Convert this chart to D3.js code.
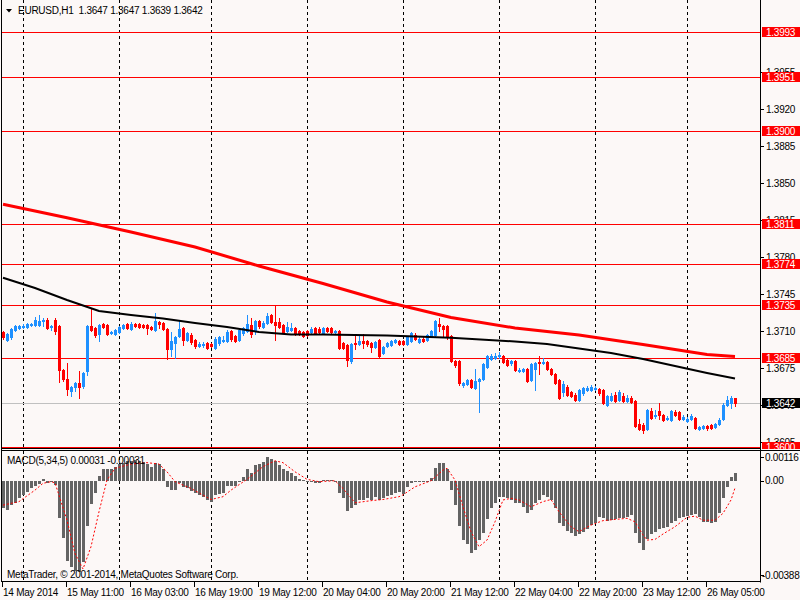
<!DOCTYPE html>
<html>
<head>
<meta charset="utf-8">
<script src="https://cdn.jsdelivr.net/npm/d3@7"></script>
<style>
  body { margin: 0; background: #fcf8f7; }
  svg { display: block; }
  text { font-family: "Liberation Sans", Arial, sans-serif; font-size: 10px; letter-spacing: -0.25px; }
</style>
</head>
<body>
<svg id="chart"></svg>
<script>
// EURUSD H1 bars, [open, high, low, close], one per hour, oldest first
const bars = [
  [1.3709,1.3710,1.3703,1.3704],[1.3702,1.3708,1.3701,1.3707],[1.3704,1.3713,1.3703,1.3712],[1.3711,1.3716,1.3710,1.3715],
  [1.3713,1.3716,1.3712,1.3715],[1.3714,1.3717,1.3713,1.3715],[1.3714,1.3718,1.3713,1.3717],[1.3716,1.3718,1.3715,1.3717],
  [1.3716,1.3723,1.3715,1.3721],[1.3716,1.3725,1.3715,1.3720],[1.3720,1.3722,1.3715,1.3721],[1.3721,1.3722,1.3712,1.3713],
  [1.3714,1.3716,1.3711,1.3715],[1.3721,1.3722,1.3707,1.3710],[1.3715,1.3716,1.3662,1.3673],[1.3673,1.3674,1.3663,1.3665],
  [1.3665,1.3680,1.3650,1.3655],[1.3653,1.3658,1.3649,1.3657],[1.3657,1.3662,1.3653,1.3661],[1.3661,1.3672,1.3647,1.3657],
  [1.3658,1.3671,1.3656,1.3670],[1.3672,1.3716,1.3668,1.3715],[1.3715,1.3732,1.3710,1.3711],[1.3713,1.3714,1.3704,1.3706],
  [1.3707,1.3717,1.3701,1.3716],[1.3717,1.3718,1.3713,1.3714],[1.3716,1.3717,1.3706,1.3707],[1.3708,1.3710,1.3707,1.3709],
  [1.3707,1.3712,1.3706,1.3711],[1.3709,1.3715,1.3708,1.3714],[1.3713,1.3717,1.3712,1.3716],[1.3717,1.3718,1.3712,1.3713],
  [1.3712,1.3719,1.3711,1.3717],[1.3717,1.3718,1.3714,1.3715],[1.3717,1.3718,1.3713,1.3714],[1.3716,1.3717,1.3713,1.3714],
  [1.3716,1.3717,1.3707,1.3713],[1.3714,1.3715,1.3711,1.3712],[1.3711,1.3727,1.3710,1.3720],[1.3719,1.3720,1.3713,1.3717],
  [1.3718,1.3719,1.3711,1.3712],[1.3712,1.3713,1.3684,1.3693],[1.3693,1.3709,1.3686,1.3701],[1.3699,1.3705,1.3685,1.3704],
  [1.3705,1.3720,1.3704,1.3712],[1.3713,1.3714,1.3697,1.3702],[1.3702,1.3709,1.3701,1.3708],[1.3706,1.3708,1.3698,1.3700],
  [1.3702,1.3703,1.3694,1.3696],[1.3696,1.3700,1.3695,1.3698],[1.3697,1.3700,1.3695,1.3698],[1.3699,1.3700,1.3693,1.3694],
  [1.3698,1.3699,1.3695,1.3696],[1.3694,1.3704,1.3693,1.3703],[1.3699,1.3705,1.3697,1.3704],[1.3701,1.3705,1.3700,1.3702],
  [1.3701,1.3711,1.3700,1.3709],[1.3710,1.3711,1.3701,1.3703],[1.3705,1.3706,1.3700,1.3701],[1.3702,1.3712,1.3701,1.3711],
  [1.3708,1.3714,1.3706,1.3713],[1.3710,1.3725,1.3709,1.3717],[1.3716,1.3722,1.3704,1.3707],[1.3710,1.3721,1.3707,1.3720],
  [1.3720,1.3721,1.3713,1.3715],[1.3714,1.3720,1.3713,1.3718],[1.3718,1.3727,1.3717,1.3724],[1.3725,1.3726,1.3718,1.3719],
  [1.3719,1.3735,1.3702,1.3716],[1.3719,1.3722,1.3713,1.3714],[1.3716,1.3717,1.3708,1.3709],[1.3710,1.3719,1.3709,1.3714],
  [1.3711,1.3718,1.3710,1.3713],[1.3713,1.3714,1.3706,1.3707],[1.3710,1.3711,1.3706,1.3707],[1.3709,1.3710,1.3704,1.3705],
  [1.3710,1.3711,1.3705,1.3706],[1.3709,1.3714,1.3708,1.3712],[1.3713,1.3714,1.3707,1.3708],[1.3712,1.3714,1.3708,1.3709],
  [1.3708,1.3714,1.3707,1.3713],[1.3713,1.3714,1.3709,1.3710],[1.3713,1.3714,1.3708,1.3709],[1.3709,1.3711,1.3708,1.3710],
  [1.3710,1.3711,1.3693,1.3694],[1.3699,1.3700,1.3693,1.3694],[1.3697,1.3698,1.3677,1.3683],[1.3682,1.3699,1.3680,1.3698],
  [1.3699,1.3707,1.3693,1.3698],[1.3698,1.3706,1.3697,1.3701],[1.3701,1.3707,1.3694,1.3699],[1.3701,1.3702,1.3696,1.3698],
  [1.3699,1.3700,1.3690,1.3695],[1.3695,1.3701,1.3694,1.3700],[1.3702,1.3703,1.3685,1.3686],[1.3689,1.3696,1.3688,1.3695],
  [1.3696,1.3700,1.3695,1.3699],[1.3697,1.3702,1.3696,1.3701],[1.3700,1.3703,1.3699,1.3702],[1.3701,1.3702,1.3697,1.3698],
  [1.3701,1.3702,1.3697,1.3698],[1.3698,1.3705,1.3697,1.3704],[1.3701,1.3709,1.3700,1.3708],[1.3706,1.3708,1.3702,1.3703],
  [1.3700,1.3704,1.3699,1.3703],[1.3703,1.3704,1.3700,1.3701],[1.3702,1.3707,1.3701,1.3706],[1.3705,1.3711,1.3704,1.3710],
  [1.3706,1.3721,1.3705,1.3720],[1.3717,1.3722,1.3710,1.3715],[1.3715,1.3716,1.3705,1.3712],[1.3715,1.3716,1.3703,1.3704],
  [1.3705,1.3706,1.3681,1.3682],[1.3682,1.3683,1.3676,1.3678],[1.3682,1.3683,1.3659,1.3661],[1.3659,1.3662,1.3657,1.3661],
  [1.3660,1.3665,1.3659,1.3664],[1.3664,1.3665,1.3656,1.3657],[1.3656,1.3674,1.3655,1.3663],[1.3663,1.3666,1.3633,1.3665],
  [1.3665,1.3680,1.3664,1.3679],[1.3676,1.3687,1.3675,1.3686],[1.3684,1.3688,1.3683,1.3686],[1.3685,1.3689,1.3684,1.3686],
  [1.3686,1.3690,1.3685,1.3687],[1.3686,1.3687,1.3680,1.3681],[1.3683,1.3684,1.3677,1.3678],[1.3680,1.3683,1.3678,1.3682],
  [1.3682,1.3683,1.3672,1.3673],[1.3672,1.3675,1.3671,1.3673],[1.3672,1.3675,1.3671,1.3674],[1.3674,1.3675,1.3662,1.3663],
  [1.3664,1.3680,1.3663,1.3679],[1.3674,1.3681,1.3654,1.3680],[1.3681,1.3686,1.3669,1.3680],[1.3680,1.3685,1.3679,1.3681],
  [1.3681,1.3682,1.3673,1.3674],[1.3674,1.3675,1.3668,1.3669],[1.3669,1.3670,1.3660,1.3661],[1.3664,1.3665,1.3646,1.3647],
  [1.3652,1.3663,1.3649,1.3660],[1.3657,1.3659,1.3649,1.3650],[1.3652,1.3653,1.3648,1.3649],[1.3650,1.3651,1.3644,1.3645],
  [1.3645,1.3655,1.3644,1.3654],[1.3651,1.3657,1.3650,1.3656],[1.3654,1.3658,1.3653,1.3656],[1.3654,1.3659,1.3653,1.3657],
  [1.3655,1.3658,1.3654,1.3656],[1.3655,1.3656,1.3650,1.3651],[1.3654,1.3655,1.3641,1.3642],[1.3640,1.3650,1.3639,1.3649],
  [1.3645,1.3651,1.3644,1.3649],[1.3650,1.3652,1.3643,1.3644],[1.3645,1.3654,1.3644,1.3652],[1.3649,1.3651,1.3643,1.3644],
  [1.3644,1.3650,1.3643,1.3647],[1.3647,1.3649,1.3642,1.3643],[1.3644,1.3645,1.3619,1.3620],[1.3622,1.3627,1.3616,1.3617],
  [1.3621,1.3623,1.3614,1.3616],[1.3617,1.3636,1.3616,1.3635],[1.3634,1.3637,1.3627,1.3628],[1.3630,1.3635,1.3628,1.3631],
  [1.3634,1.3642,1.3627,1.3631],[1.3631,1.3632,1.3625,1.3626],[1.3627,1.3630,1.3626,1.3628],[1.3626,1.3635,1.3625,1.3634],
  [1.3633,1.3635,1.3630,1.3631],[1.3633,1.3634,1.3626,1.3627],[1.3627,1.3631,1.3626,1.3629],[1.3625,1.3629,1.3624,1.3627],
  [1.3627,1.3632,1.3626,1.3630],[1.3628,1.3629,1.3617,1.3618],[1.3617,1.3620,1.3616,1.3619],[1.3618,1.3621,1.3617,1.3620],
  [1.3620,1.3621,1.3616,1.3618],[1.3621,1.3622,1.3617,1.3618],[1.3619,1.3623,1.3618,1.3622],[1.3622,1.3628,1.3621,1.3626],
  [1.3627,1.3642,1.3626,1.3640],[1.3640,1.3649,1.3639,1.3645],[1.3642,1.3649,1.3637,1.3647],[1.3647,1.3647,1.3639,1.3642]
];

// moving averages, read at a few bars (bar index, price)
const maRedBars   = [0, 16, 32, 48, 64, 80, 96, 112, 128, 144, 160, 176, 183];
const maRedValues = [1.38301, 1.38173, 1.38039, 1.37897, 1.37717, 1.37551, 1.37376, 1.37229, 1.37130, 1.37063, 1.36974, 1.36879, 1.36860];
const maBlackBars   = [0, 8, 16, 24, 32, 40, 48, 56, 64, 72, 80, 96, 112, 128, 136, 144, 152, 160, 168, 176, 183];
const maBlackValues = [1.37606, 1.37509, 1.37395, 1.37291, 1.37253, 1.37220, 1.37177, 1.37139, 1.37092, 1.37068, 1.37068,
                       1.37059, 1.37037, 1.37002, 1.36978, 1.36936, 1.36893, 1.36836, 1.36770, 1.36704, 1.36652];

// MACD(5,34,5) main histogram, one per bar
const macdHist = [
  -0.00118,-0.00125,-0.00104,-0.00097,-0.00075,-0.00061,-0.00047,-0.00033,-0.00023,-0.00014,
   0.00006,-0.00009,-0.00004,-0.00018,-0.00160,-0.00246,-0.00341,-0.00366,-0.00383,-0.00388,
  -0.00345,-0.00193,-0.00099,-0.00051, 0.00020, 0.00048, 0.00048, 0.00048, 0.00057, 0.00071,
   0.00077, 0.00085, 0.00085, 0.00088, 0.00085, 0.00081, 0.00071, 0.00060, 0.00074, 0.00071,
   0.00048,-0.00026,-0.00040,-0.00040,-0.00011,-0.00026,-0.00033,-0.00043,-0.00054,-0.00061,
  -0.00071,-0.00082,-0.00089,-0.00061,-0.00057,-0.00051,-0.00023,-0.00023,-0.00023,-0.00002,
   0.00014, 0.00048, 0.00034, 0.00067, 0.00071, 0.00081, 0.00099, 0.00091, 0.00085, 0.00067,
   0.00048, 0.00043, 0.00034, 0.00020, 0.00006, 0.00001,-0.00004,-0.00004,-0.00011,-0.00009,
   0.00001, 0.00001, 0.00001,-0.00004,-0.00051,-0.00075,-0.00128,-0.00118,-0.00104,-0.00082,
  -0.00080,-0.00075,-0.00080,-0.00071,-0.00082,-0.00075,-0.00065,-0.00061,-0.00054,-0.00047,
  -0.00057,-0.00026,-0.00009,-0.00007,-0.00007,-0.00006,-0.00004, 0.00010, 0.00053, 0.00074,
   0.00074, 0.00048,-0.00040,-0.00104,-0.00193,-0.00253,-0.00270,-0.00307,-0.00295,-0.00253,
  -0.00222,-0.00165,-0.00118,-0.00094,-0.00071,-0.00071,-0.00075,-0.00080,-0.00094,-0.00097,
  -0.00111,-0.00139,-0.00125,-0.00097,-0.00082,-0.00061,-0.00068,-0.00080,-0.00118,-0.00179,
  -0.00193,-0.00213,-0.00224,-0.00236,-0.00227,-0.00217,-0.00207,-0.00189,-0.00179,-0.00156,
  -0.00160,-0.00172,-0.00168,-0.00165,-0.00160,-0.00158,-0.00156,-0.00146,-0.00222,-0.00264,
  -0.00293,-0.00250,-0.00227,-0.00217,-0.00207,-0.00203,-0.00199,-0.00179,-0.00170,-0.00160,
  -0.00153,-0.00151,-0.00146,-0.00142,-0.00156,-0.00175,-0.00175,-0.00179,-0.00175,-0.00136,
  -0.00075,-0.00028, 0.00017, 0.00031
];

// MACD signal line, read at a few bars
const signalBars = [0, 4, 8, 10, 12, 13, 16, 18, 20, 22, 24, 26, 28, 32, 36, 39, 41, 43, 47, 52, 55, 57, 61, 65, 68, 70, 73, 76,
  79, 83, 85, 88, 92, 95, 99, 100, 103, 107, 110, 111, 113, 115, 117, 119, 121, 123, 125, 127, 129, 132, 135, 137, 139,
  142, 144, 147, 150, 153, 156, 158, 160, 161, 163, 165, 168, 171, 173, 175, 178, 180, 182, 183];
const signalValues = [-0.00104,-0.00089,-0.00040,-0.00011,-0.00004,-0.00009,-0.00168,-0.00310,-0.00376,-0.00281,-0.00132,
  0.00003, 0.00053, 0.00071, 0.00077, 0.00071, 0.00038,-0.00004,-0.00033,-0.00080,-0.00068,-0.00040, 0.00006, 0.00060,
  0.00085, 0.00077, 0.00038, 0.00006,-0.00004, 0.00000,-0.00033,-0.00094,-0.00085,-0.00080,-0.00068,-0.00060,-0.00026,
  0.00000, 0.00045, 0.00053, 0.00003,-0.00111,-0.00217,-0.00281,-0.00253,-0.00175,-0.00082,-0.00075,-0.00082,-0.00111,
  -0.00089,-0.00080,-0.00132,-0.00196,-0.00217,-0.00189,-0.00170,-0.00165,-0.00160,-0.00175,-0.00231,-0.00253,-0.00250,
  -0.00227,-0.00196,-0.00156,-0.00151,-0.00168,-0.00168,-0.00139,-0.00082,-0.00031];

const levels = [1.3993, 1.3951, 1.3900, 1.3811, 1.3774, 1.3735, 1.3685, 1.3600];
const lastPrice = 1.3642;
const priceTicks = [1.3955, 1.3920, 1.3885, 1.3850, 1.3815, 1.3780, 1.3745, 1.3710, 1.3675, 1.3640, 1.3605];
const macdTicks = [0.00116, 0, -0.00388];
const macdTickLabels = ["0.00116", "0.00", "-0.00388"];
const gridBars = [5, 29, 52, 76, 100, 124, 148, 171];
const timeBars = [0, 16, 32, 48, 64, 80, 96, 112, 128, 144, 160, 176];
const timeLabels = ["14 May 2014", "15 May 11:00", "16 May 03:00", "16 May 19:00", "19 May 12:00", "20 May 04:00",
  "20 May 20:00", "21 May 12:00", "22 May 04:00", "22 May 20:00", "23 May 12:00", "26 May 05:00"];

const W = 800, H = 600;
const axisX = 760;
const mainBottom = 448, macdTop = 451, macdBottom = 582;
const bull = "#1e90ff", bear = "#ff0000";

const svg = d3.select("#chart").attr("width", W).attr("height", H);
svg.append("rect").attr("width", W).attr("height", H).attr("fill", "#fcf8f7");

const x = d3.scaleLinear().domain([0, 183]).range([3, 735]);
const y = d3.scaleLinear().domain([1.3600, 1.3993]).range([447.3, 32.3]);
const ym = d3.scaleLinear().domain([-0.00388, 0.00116]).range([571.8, 453.5]);
const px = v => Math.round(v);

const defs = svg.append("defs");
defs.append("clipPath").attr("id", "clipMain").append("rect")
  .attr("x", 2).attr("y", 0).attr("width", axisX - 2).attr("height", mainBottom);
defs.append("clipPath").attr("id", "clipMacd").append("rect")
  .attr("x", 2).attr("y", macdTop).attr("width", axisX - 2).attr("height", macdBottom - macdTop);

const main = svg.append("g").attr("clip-path", "url(#clipMain)");
const sub = svg.append("g").attr("clip-path", "url(#clipMacd)");

// dashed day grid in both panels
[[main, 0, mainBottom], [sub, macdTop, macdBottom]].forEach(([g, y0, y1]) => {
  g.selectAll(null).data(gridBars).enter().append("line")
    .attr("x1", d => px(x(d)) + 0.5).attr("x2", d => px(x(d)) + 0.5)
    .attr("y1", y0).attr("y2", y1)
    .attr("stroke", "#000").attr("stroke-dasharray", "3,3");
});

// horizontal levels and current price line
main.selectAll(null).data(levels).enter().append("line")
  .attr("x1", 0).attr("x2", axisX)
  .attr("y1", d => px(y(d)) + 0.5).attr("y2", d => px(y(d)) + 0.5)
  .attr("stroke", "#ff0000");
main.append("line")
  .attr("x1", 0).attr("x2", axisX)
  .attr("y1", px(y(lastPrice)) + 0.5).attr("y2", px(y(lastPrice)) + 0.5)
  .attr("stroke", "#c0c0c0");

// candles
const candle = main.selectAll("g.candle").data(bars).enter().append("g")
  .attr("fill", d => d[3] >= d[0] ? bull : bear);
candle.append("rect")
  .attr("x", (d, i) => px(x(i)))
  .attr("y", d => px(y(d[1])))
  .attr("width", 1)
  .attr("height", d => px(y(d[2])) - px(y(d[1])) + 1);
candle.append("rect")
  .attr("x", (d, i) => px(x(i)) - 1)
  .attr("y", d => px(y(Math.max(d[0], d[3]))))
  .attr("width", 3)
  .attr("height", d => Math.max(1, px(y(Math.min(d[0], d[3]))) - px(y(Math.max(d[0], d[3]))) + 1));

// moving averages
const maLine = d3.line().x(d => x(d[0])).y(d => y(d[1]));
main.append("path")
  .attr("d", maLine(d3.zip(maBlackBars, maBlackValues)))
  .attr("fill", "none").attr("stroke", "#000").attr("stroke-width", 2);
main.append("path")
  .attr("d", maLine(d3.zip(maRedBars, maRedValues)))
  .attr("fill", "none").attr("stroke", "#ff0000").attr("stroke-width", 3);

// MACD histogram + signal
sub.selectAll("rect.h").data(macdHist).enter().append("rect")
  .attr("x", (d, i) => px(x(i)) - 1)
  .attr("width", 3)
  .attr("y", d => Math.min(px(ym(d)), px(ym(0))))
  .attr("height", d => Math.max(1, Math.abs(px(ym(d)) - px(ym(0)))))
  .attr("fill", "#646464");
sub.append("path")
  .attr("d", d3.line().x(d => x(d[0])).y(d => ym(d[1]))(d3.zip(signalBars, signalValues)))
  .attr("fill", "none").attr("stroke", "#ff0000").attr("stroke-dasharray", "2,2");

// frames
const frame = svg.append("g").attr("stroke", "#000").attr("fill", "none");
frame.append("line").attr("x1", 1.5).attr("x2", 1.5).attr("y1", 0).attr("y2", macdBottom);
frame.append("line").attr("x1", axisX + 0.5).attr("x2", axisX + 0.5).attr("y1", 0).attr("y2", macdBottom + 0.5);
frame.append("line").attr("x1", 1).attr("x2", axisX).attr("y1", mainBottom + 0.5).attr("y2", mainBottom + 0.5);
frame.append("line").attr("x1", 1).attr("x2", W).attr("y1", macdTop - 0.5).attr("y2", macdTop - 0.5);
frame.append("line").attr("x1", 1).attr("x2", axisX + 1).attr("y1", macdBottom - 0.5).attr("y2", macdBottom - 0.5);

// price axis
const axisG = svg.append("g").attr("clip-path", null);
defs.append("clipPath").attr("id", "clipAxis").append("rect")
  .attr("x", axisX + 1).attr("y", 0).attr("width", W - axisX).attr("height", mainBottom + 1);
const priceAxis = svg.append("g").attr("clip-path", "url(#clipAxis)");
priceAxis.selectAll(null).data(priceTicks).enter().append("line")
  .attr("x1", axisX + 1).attr("x2", axisX + 4)
  .attr("y1", d => px(y(d)) + 0.5).attr("y2", d => px(y(d)) + 0.5)
  .attr("stroke", "#000");
priceAxis.selectAll(null).data(priceTicks).enter().append("text")
  .attr("x", axisX + 6).attr("y", d => y(d) + 3.5)
  .text(d => d.toFixed(4));

const tagData = levels.map(v => ({ v, fill: "#ff0000" })).concat([{ v: lastPrice, fill: "#000" }]);
const tags = priceAxis.selectAll("g.tag").data(tagData).enter().append("g");
tags.append("rect")
  .attr("x", axisX + 2).attr("y", d => px(y(d.v)) - 5)
  .attr("width", W - axisX - 2).attr("height", 10)
  .attr("fill", d => d.fill);
tags.append("text")
  .attr("x", axisX + 6).attr("y", d => y(d.v) + 4)
  .attr("fill", "#fff")
  .text(d => d.v.toFixed(4));

// MACD axis
const macdLabelY = [ym(0.00116) + 3.8, ym(0), ym(-0.00388) + 3.2];
svg.selectAll("line.mt").data(macdTicks).enter().append("line")
  .attr("x1", axisX + 1).attr("x2", axisX + 4)
  .attr("y1", (d, i) => px(macdLabelY[i]) + 0.5).attr("y2", (d, i) => px(macdLabelY[i]) + 0.5)
  .attr("stroke", "#000");
svg.selectAll("text.mt").data(macdTickLabels).enter().append("text")
  .attr("x", (d, i) => d.startsWith("-") ? axisX + 2 : axisX + 5)
  .attr("y", (d, i) => macdLabelY[i] + 3.5)
  .text(d => d);

// time axis
svg.selectAll("line.tt").data(timeBars).enter().append("line")
  .attr("x1", d => px(x(d)) - 0.5).attr("x2", d => px(x(d)) - 0.5)
  .attr("y1", macdBottom).attr("y2", macdBottom + 5)
  .attr("stroke", "#000");
svg.selectAll("text.tt").data(timeBars).enter().append("text")
  .attr("x", d => px(x(d)))
  .attr("y", 596)
  .text((d, i) => timeLabels[i]);

// captions
svg.append("path").attr("d", "M6,9 L12,9 L9,12.5 Z").attr("fill", "#000");
svg.append("text").attr("x", 18).attr("y", 14)
  .text("EURUSD,H1  1.3647 1.3647 1.3639 1.3642").attr("xml:space", "preserve").style("white-space", "pre");
svg.append("text").attr("x", 7).attr("y", 463.5).text("MACD(5,34,5) 0.00031 -0.00031");
svg.append("text").attr("x", 7).attr("y", 577.5).text("MetaTrader, \u00a9 2001-2014, MetaQuotes Software Corp.");
</script>
</body>
</html>
